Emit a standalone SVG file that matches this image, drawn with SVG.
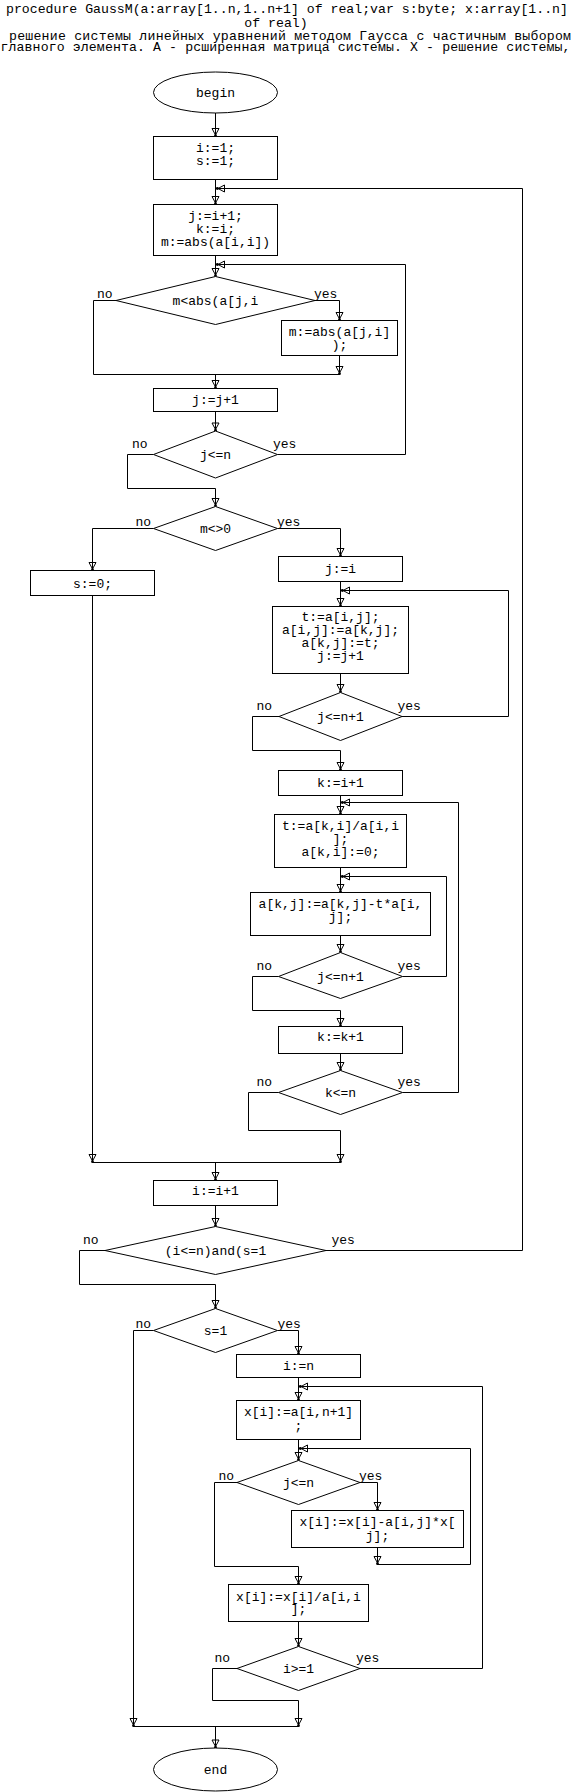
<svg xmlns="http://www.w3.org/2000/svg" width="576" height="1792" viewBox="0 0 576 1792">
<style>
.n rect,.n ellipse,.n polygon{fill:#fff;stroke:#000;stroke-width:1}
.c path{fill:none;stroke:#000;stroke-width:1}
text{font-family:"Liberation Mono","Courier New",monospace;font-size:13px;fill:#000;text-anchor:middle}
.l{text-anchor:start}
.h{font-size:13.2px}
</style>
<defs>
<marker id="a" markerUnits="userSpaceOnUse" markerWidth="12" markerHeight="12" viewBox="-10 -6 12 12" refX="0" refY="0" orient="auto" overflow="visible">
<path d="M-8,-3.5 L-1.5,0 L-8,3.5 Z" fill="none" stroke="#000" stroke-width="1"/>
<circle cx="-0.8" cy="0" r="1.4" fill="#000"/>
</marker>
</defs>
<rect width="576" height="1792" fill="#fff"/>
<g id="header">
<text class="h" x="287" y="12.5">procedure GaussM(a:array[1..n,1..n+1] of real;var s:byte; x:array[1..n]</text>
<text class="h" x="276" y="27">of real)</text>
<text class="h l" x="9" y="39.5" textLength="562" lengthAdjust="spacing">решение системы линейных уравнений методом Гаусса с частичным выбором</text>
<text class="h l" x="0.5" y="51" textLength="570" lengthAdjust="spacing">главного элемента. A - рсширенная матрица системы. X - решение системы,</text>
</g>
<g class="c" marker-end="url(#a)">
<path d="M215.5,113 V136.5"/>
<path d="M215.5,179.5 V204.5"/>
<path d="M326,1250.5 H522.5 V188.5 H216.5"/>
<path d="M215.5,255.5 V276.5"/>
<path d="M277.5,454.5 H405.5 V264.5 H216.5"/>
<path d="M315,300.5 H339.5 V320.5"/>
<path d="M339.5,355.5 V374.5"/>
<path d="M215.5,374.5 V388.5"/>
<path d="M215.5,411.5 V431"/>
<path d="M153.5,454.5 H127.5 V488.5 H215.5 V506.5"/>
<path d="M153.5,528.5 H92.5 V570.5"/>
<path d="M277.5,528.5 H340.5 V556.5"/>
<path d="M340.5,581.5 V606.5"/>
<path d="M402,716.5 H508.5 V590.5 H341.5"/>
<path d="M340.5,673.5 V692.5"/>
<path d="M279,716.5 H252.5 V750.5 H340.5 V770.5"/>
<path d="M340.5,795.5 V814.5"/>
<path d="M402.5,1092.5 H458.5 V802.5 H341.5"/>
<path d="M340.5,867.5 V892.5"/>
<path d="M402.5,976.5 H446.5 V876.5 H341.5"/>
<path d="M340.5,935.5 V952.5"/>
<path d="M278.5,976.5 H252.5 V1010.5 H340.5 V1026.5"/>
<path d="M340.5,1053.5 V1070.5"/>
<path d="M278.5,1092.5 H248.5 V1130.5 H340.5 V1162.5"/>
<path d="M92.5,595.5 V1162.5"/>
<path d="M215.5,1162.5 V1180.5"/>
<path d="M215.5,1205.5 V1226.5"/>
<path d="M105,1250.5 H79.5 V1284.5 H215.5 V1308.5"/>
<path d="M153.5,1330.5 H133.5 V1726.5"/>
<path d="M277.5,1330.5 H298.5 V1354.5"/>
<path d="M298.5,1377.5 V1400.5"/>
<path d="M360,1668.5 H482.5 V1386.5 H299.5"/>
<path d="M298.5,1439.5 V1460.5"/>
<path d="M360,1482.5 H377.5 V1510.5"/>
<path d="M377.5,1547.5 V1564.5"/>
<path d="M377.5,1564.5 H470.5 V1448.5 H299.5"/>
<path d="M237,1482.5 H214.5 V1566.5 H298.5 V1584.5"/>
<path d="M298.5,1621.5 V1646.5"/>
<path d="M237,1668.5 H212.5 V1700.5 H298.5 V1726.5"/>
<path d="M215.5,1726.5 V1748"/>
</g>
<g class="c">
<path d="M116,300.5 H93.5 V374.5 H339.5"/>
<path d="M92.5,1162.5 H340.5"/>
<path d="M133.5,1726.5 H298.5"/>
</g>
<g id="begin" class="n"><ellipse cx="215.5" cy="92.5" rx="62" ry="20.5"/><text x="215.5" y="97">begin</text></g>
<g id="init" class="n"><rect x="153.5" y="136.5" width="124" height="43"/><text x="215.5" y="152">i:=1;</text><text x="215.5" y="165">s:=1;</text></g>
<g id="outerBody" class="n"><rect x="153.5" y="204.5" width="124" height="51"/><text x="215.5" y="219.5">j:=i+1;</text><text x="215.5" y="232.5">k:=i;</text><text x="215.5" y="245.5">m:=abs(a[i,i])</text></g>
<g id="cmpMax" class="n"><polygon points="215.5,276.5 315,300.5 215.5,324.5 116,300.5"/><text x="215.5" y="305">m&lt;abs(a[j,i</text><text class="l" x="97" y="297.5">no</text><text class="l" x="314" y="297.5">yes</text></g>
<g id="setMax" class="n"><rect x="281.5" y="320.5" width="116" height="35"/><text x="339.5" y="336">m:=abs(a[j,i]</text><text x="339.5" y="349">);</text></g>
<g id="incJ" class="n"><rect x="153.5" y="388.5" width="124" height="23"/><text x="215.5" y="403.5">j:=j+1</text></g>
<g id="loopJ" class="n"><polygon points="215.5,431 277.5,454.5 215.5,478 153.5,454.5"/><text x="215.5" y="459">j&lt;=n</text><text class="l" x="132" y="447.5">no</text><text class="l" x="273" y="447.5">yes</text></g>
<g id="mNonZero" class="n"><polygon points="215.5,506.5 277.5,528.5 215.5,550.5 153.5,528.5"/><text x="215.5" y="533">m&lt;&gt;0</text><text class="l" x="135.5" y="525.5">no</text><text class="l" x="277" y="525.5">yes</text></g>
<g id="setS0" class="n"><rect x="30.5" y="570.5" width="124" height="25"/><text x="92.5" y="588">s:=0;</text></g>
<g id="setJi" class="n"><rect x="278.5" y="556.5" width="124" height="25"/><text x="340.5" y="573">j:=i</text></g>
<g id="swap" class="n"><rect x="272.5" y="606.5" width="136" height="67"/><text x="340.5" y="621">t:=a[i,j];</text><text x="340.5" y="634">a[i,j]:=a[k,j];</text><text x="340.5" y="647">a[k,j]:=t;</text><text x="340.5" y="660">j:=j+1</text></g>
<g id="loopSwap" class="n"><polygon points="340.5,692.5 402,716.5 340.5,740.5 279,716.5"/><text x="340.5" y="721">j&lt;=n+1</text><text class="l" x="256.5" y="709.8">no</text><text class="l" x="397.5" y="709.8">yes</text></g>
<g id="setK" class="n"><rect x="278.5" y="770.5" width="124" height="25"/><text x="340.5" y="787">k:=i+1</text></g>
<g id="factor" class="n"><rect x="274.5" y="814.5" width="132" height="53"/><text x="340.5" y="829.5">t:=a[k,i]/a[i,i</text><text x="340.5" y="842.5">];</text><text x="340.5" y="855.5">a[k,i]:=0;</text></g>
<g id="elim" class="n"><rect x="250.5" y="892.5" width="180" height="43"/><text x="340.5" y="907.5">a[k,j]:=a[k,j]-t*a[i,</text><text x="340.5" y="921">j];</text></g>
<g id="loopElim" class="n"><polygon points="340.5,952.5 402.5,976.5 340.5,998.5 278.5,976.5"/><text x="340.5" y="981">j&lt;=n+1</text><text class="l" x="256.5" y="969.8">no</text><text class="l" x="397.5" y="969.8">yes</text></g>
<g id="incK" class="n"><rect x="278.5" y="1026.5" width="124" height="27"/><text x="340.5" y="1041">k:=k+1</text></g>
<g id="loopK" class="n"><polygon points="340.5,1070.5 402.5,1092.5 340.5,1114.5 278.5,1092.5"/><text x="340.5" y="1097">k&lt;=n</text><text class="l" x="256.5" y="1085.8">no</text><text class="l" x="397.5" y="1085.8">yes</text></g>
<g id="incI" class="n"><rect x="153.5" y="1180.5" width="124" height="25"/><text x="215.5" y="1195">i:=i+1</text></g>
<g id="loopI" class="n"><polygon points="215.5,1226.5 326,1250.5 215.5,1274.5 105,1250.5"/><text x="215.5" y="1255">(i&lt;=n)and(s=1</text><text class="l" x="83" y="1243.8">no</text><text class="l" x="331.5" y="1243.8">yes</text></g>
<g id="sIs1" class="n"><polygon points="215.5,1308.5 277.5,1330.5 215.5,1352.5 153.5,1330.5"/><text x="215.5" y="1335">s=1</text><text class="l" x="135.5" y="1327.8">no</text><text class="l" x="277.5" y="1327.8">yes</text></g>
<g id="setIn" class="n"><rect x="236.5" y="1354.5" width="124" height="23"/><text x="298.5" y="1369.5">i:=n</text></g>
<g id="initX" class="n"><rect x="236.5" y="1400.5" width="124" height="39"/><text x="298.5" y="1415.5">x[i]:=a[i,n+1]</text><text x="298.5" y="1429.5">;</text></g>
<g id="loopBack" class="n"><polygon points="298.5,1460.5 360,1482.5 298.5,1504.5 237,1482.5"/><text x="298.5" y="1487">j&lt;=n</text><text class="l" x="218.5" y="1479.8">no</text><text class="l" x="359" y="1479.8">yes</text></g>
<g id="subX" class="n"><rect x="291.5" y="1510.5" width="172" height="37"/><text x="377.5" y="1526">x[i]:=x[i]-a[i,j]*x[</text><text x="377.5" y="1539.5">j];</text></g>
<g id="divX" class="n"><rect x="228.5" y="1584.5" width="140" height="37"/><text x="298.5" y="1600.5">x[i]:=x[i]/a[i,i</text><text x="298.5" y="1613">];</text></g>
<g id="loopIdown" class="n"><polygon points="298.5,1646.5 360,1668.5 298.5,1690.5 237,1668.5"/><text x="298.5" y="1673">i&gt;=1</text><text class="l" x="214.5" y="1661.8">no</text><text class="l" x="356" y="1661.8">yes</text></g>
<g id="end" class="n"><ellipse cx="215.5" cy="1769.5" rx="62" ry="21.5"/><text x="215.5" y="1774">end</text></g>
</svg>
